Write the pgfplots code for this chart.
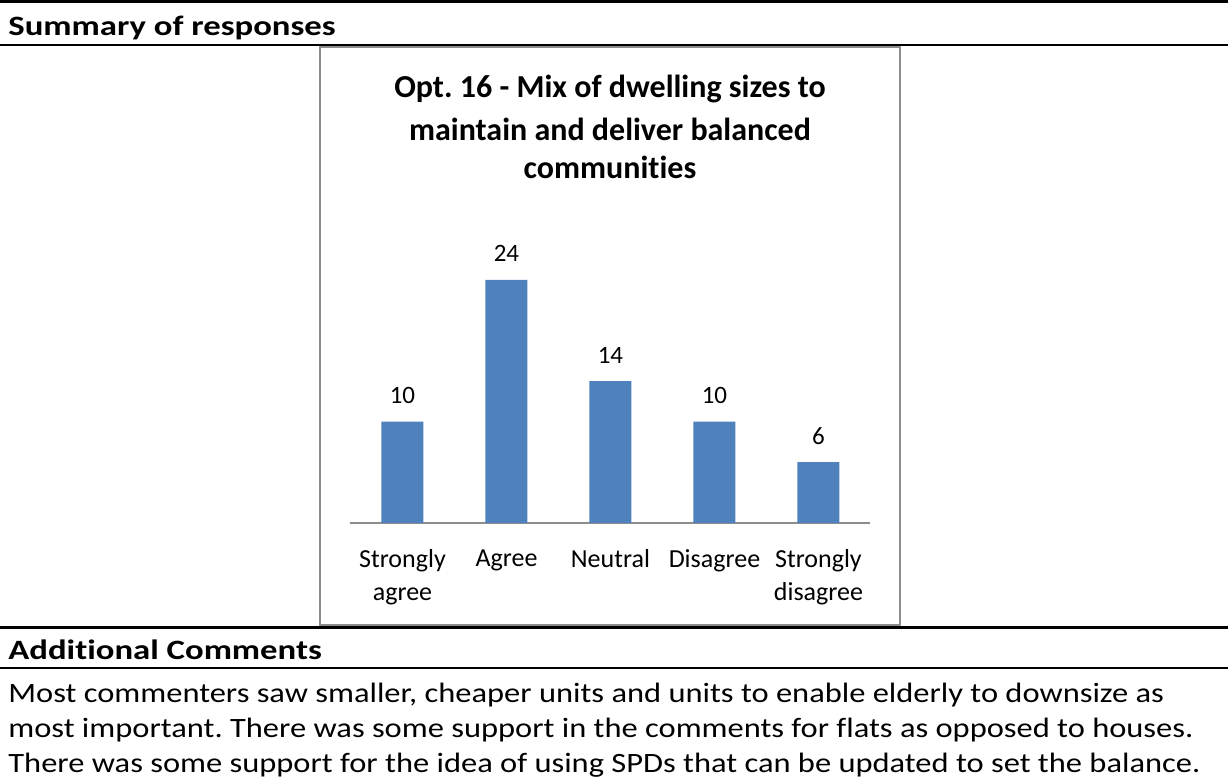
\documentclass[border=0pt]{standalone}
\usepackage{fontspec}
\setmainfont{Carlito}[Ligatures=NoCommon]
\newfontfamily\bodyfont{Carlito}[FakeStretch=1.16,Ligatures=NoCommon]
\newfontfamily\headfont{Carlito}[FakeStretch=1.24,Ligatures=NoCommon]
\usepackage{pgfplots}
\pgfplotsset{compat=1.18}
\definecolor{barblue}{RGB}{79,129,189}
\definecolor{boxgray}{RGB}{140,140,140}
\frenchspacing

\begin{document}
\begin{tikzpicture}[x=0.5pt,y=0.5pt]
\useasboundingbox (0,0) rectangle (1228,782);
% table rules
\draw[line width=1.5pt] (0,780) -- (1228,780);
\draw[line width=1pt] (0,737) -- (1228,737);
\draw[line width=1.5pt] (0,154) -- (1228,154);
\draw[line width=1.2pt] (0,114) -- (1228,114);
\node[anchor=west, font=\headfont\fontsize{14}{16}\selectfont\bfseries, inner sep=0pt] at (8,754) {Summary of responses};
\node[anchor=west, font=\headfont\fontsize{14}{16}\selectfont\bfseries, inner sep=0pt] at (8,132) {Additional Comments};
\node[anchor=west, font=\bodyfont\fontsize{14}{16}\selectfont, inner sep=0pt] at (8,87) {Most commenters saw smaller, cheaper units and units to enable elderly to downsize as};
\node[anchor=west, font=\bodyfont\fontsize{14}{16}\selectfont, inner sep=0pt] at (8,52) {most important. There was some support in the comments for flats as opposed to houses.};
\node[anchor=west, font=\bodyfont\fontsize{14}{16}\selectfont, inner sep=0pt] at (8,17) {There was some support for the idea of using SPDs that can be updated to set the balance.};
% chart frame
\draw[boxgray, line width=1pt] (320,157) rectangle (900,735);
\node[font=\fontsize{16}{18}\selectfont\bfseries, inner sep=0pt] at (610,693) {Opt. 16 - Mix of dwelling sizes to};
\node[font=\fontsize{16}{18}\selectfont\bfseries, inner sep=0pt] at (610,653) {maintain and deliver balanced};
\node[font=\fontsize{16}{18}\selectfont\bfseries, inner sep=0pt] at (610,615) {communities};
\begin{axis}[
    at={(387,256)}, anchor=origin,
    scale only axis, width=260pt, height=121.5pt,
    xmin=-0.5, xmax=4.5, ymin=0, ymax=24,
    axis y line=none, axis x line*=bottom,
    x axis line style={boxgray, line width=0.8pt, -},
    xtick=data, major tick length=0pt,
    xticklabels={Strongly\\agree, Agree, Neutral, Disagree, Strongly\\disagree},
    xticklabel style={align=center, font=\fontsize{13}{16.5}\selectfont, anchor=north, yshift=-10pt},
    ytick=\empty,
    clip=false,
    ybar, bar width=21pt,
    nodes near coords,
    every node near coord/.append style={font=\fontsize{12.5}{14}\selectfont, anchor=center, yshift=13pt},
    /pgf/number format/assume math mode=true,
]
\addplot[fill=barblue, draw=none] coordinates {(0,10) (1,24) (2,14) (3,10) (4,6)};
\end{axis}
\end{tikzpicture}
\end{document}
